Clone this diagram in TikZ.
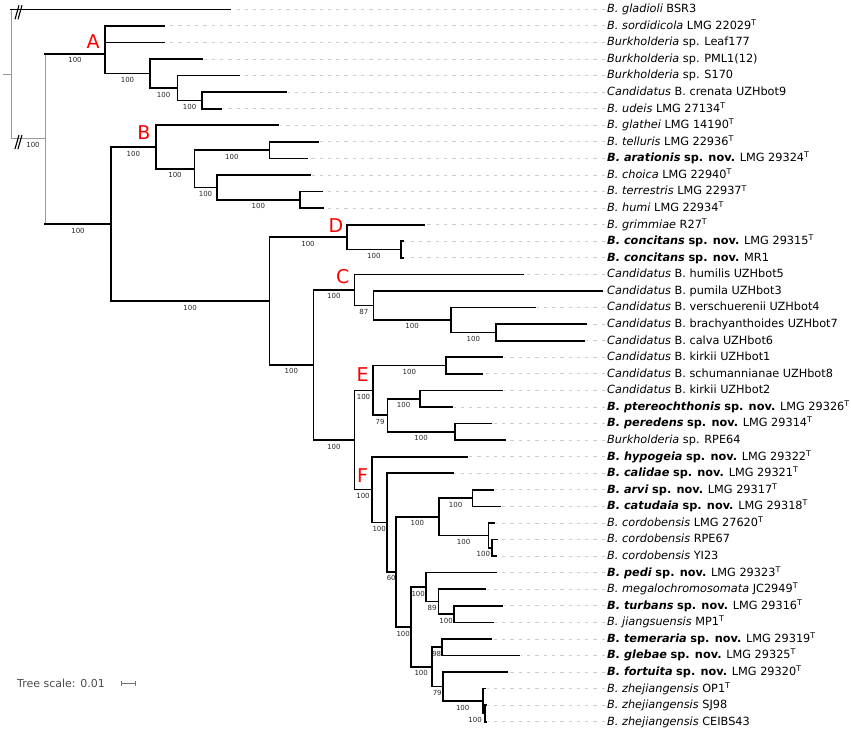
\documentclass[tikz,border=0pt]{standalone}
\usepackage{fontspec}
\setmainfont{DejaVu Sans}
\usepackage{tikz}
\usetikzlibrary{arrows.meta}

\newcommand{\nov}[1]{\textbf{\textit{B. #1}} \textbf{sp. nov.}}
\newcommand{\tstr}{\textsuperscript{T}}

\begin{document}
\begin{tikzpicture}[x=1pt, y=-1pt,
  branch/.style={line width=1.6pt, line cap=rect, line join=miter},
  rootline/.style={line width=1pt, draw=black!40},
  guide/.style={draw=black!20, line width=0.9pt, dash pattern=on 3.3pt off 5pt,
    shorten <=2pt, shorten >=2pt},
  boot/.style={font=\fontsize{7}{7}\selectfont, text=black!85, inner sep=0pt, below=3pt},
  clade/.style={font=\fontsize{19}{19}\selectfont, text=red, inner sep=0pt},
  leaf/.style={font=\fontsize{11.3}{13}\selectfont, anchor=base west, inner sep=0pt},
  breakmark/.style={line width=1.1pt},
  scalebar/.style={draw=black!55, line width=0.9pt, {Bar[width=5pt]}-{Bar[width=5pt]}}]

  \useasboundingbox (0,0) rectangle (851,729);

  % Листья: номер / конец ветви / подпись
  \foreach \i/\tx/\lab in {
    1/230/{\textit{B. gladioli} BSR3},
    2/164/{\textit{B. sordidicola} LMG 22029\tstr},
    3/164/{\textit{Burkholderia} sp. Leaf177},
    4/201.7/{\textit{Burkholderia} sp. PML1(12)},
    5/239.3/{\textit{Burkholderia} sp. S170},
    6/285.7/{\textit{Candidatus} B. crenata UZHbot9},
    7/220.7/{\textit{B. udeis} LMG 27134\tstr},
    8/278.3/{\textit{B. glathei} LMG 14190\tstr},
    9/317.7/{\textit{B. telluris} LMG 22936\tstr},
    10/306.7/{\nov{arationis} LMG 29324\tstr},
    11/310/{\textit{B. choica} LMG 22940\tstr},
    12/322.3/{\textit{B. terrestris} LMG 22937\tstr},
    13/323.3/{\textit{B. humi} LMG 22934\tstr},
    14/424.3/{\textit{B. grimmiae} R27\tstr},
    15/402.7/{\nov{concitans} LMG 29315\tstr},
    16/402.7/{\nov{concitans} MR1},
    17/522.7/{\textit{Candidatus} B. humilis UZHbot5},
    18/602/{\textit{Candidatus} B. pumila UZHbot3},
    19/535/{\textit{Candidatus} B. verschuerenii UZHbot4},
    20/585.7/{\textit{Candidatus} B. brachyanthoides UZHbot7},
    21/584.3/{\textit{Candidatus} B. calva UZHbot6},
    22/502.3/{\textit{Candidatus} B. kirkii UZHbot1},
    23/482.3/{\textit{Candidatus} B. schumannianae UZHbot8},
    24/501.7/{\textit{Candidatus} B. kirkii UZHbot2},
    25/451.7/{\nov{ptereochthonis} LMG 29326\tstr},
    26/490.7/{\nov{peredens} LMG 29314\tstr},
    27/505/{\textit{Burkholderia} sp. RPE64},
    28/466.7/{\nov{hypogeia} LMG 29322\tstr},
    29/453.3/{\nov{calidae} LMG 29321\tstr},
    30/492.7/{\nov{arvi} LMG 29317\tstr},
    31/500/{\nov{catudaia} LMG 29318\tstr},
    32/494/{\textit{B. cordobensis} LMG 27620\tstr},
    33/496.7/{\textit{B. cordobensis} RPE67},
    34/496/{\textit{B. cordobensis} YI23},
    35/495.7/{\nov{pedi} LMG 29323\tstr},
    36/485/{\textit{B. megalochromosomata} JC2949\tstr},
    37/501.7/{\nov{turbans} LMG 29316\tstr},
    38/493.3/{\textit{B. jiangsuensis} MP1\tstr},
    39/490.7/{\nov{temeraria} LMG 29319\tstr},
    40/519.3/{\nov{glebae} LMG 29325\tstr},
    41/507.3/{\nov{fortuita} LMG 29320\tstr},
    42/485/{\textit{B. zhejiangensis} OP1\tstr},
    43/486/{\textit{B. zhejiangensis} SJ98},
    44/486/{\textit{B. zhejiangensis} CEIBS43}} {
    \coordinate (t\i) at (\tx,{9.3+(\i-1)*16.57});
    \node[leaf] (l\i) at (607,{12.7+(\i-1)*16.57}) {\lab};
    \draw[guide] (t\i -| l\i.west) -- (t\i);
  }

  % Внутренние узлы: имя / x / номер строки
  \foreach \n/\x/\r in {r0/2.7/4.912, root/11/4.912, bk1/15/1, bk2/15/8.824,
    N1/45/8.824, A/105/3.6875, a0/105/2.5, a1/150/4.875, a2/177.3/5.75, a3/202/6.5,
    N2/111/13.96, B/155.7/9.3125, b1/194.3/10.625, b2/269.3/9.5, b3/216.7/11.75, b4/300/12.5,
    N3/269.3/18.608, D/346.7/14.75, d1/401/15.5,
    N4/313.3/22.466, C/354.3/17.9375, c1/373.3/18.875, c2/451/19.75, c3/495.7/20.5,
    N5/354.3/26.994, E/372.7/24, e1/446/22.5, e2/387.3/25.5, e3/420/24.5, e4/455/26.5,
    F/371.7/29.988, f1/386.7/31.977, f2/395.7/34.953, f3/439/31.625, f4/472.3/30.5,
    f5/488.3/32.75, f5b/491.7/33.5, f6/410.7/38.281, f7/425.7/35.875, f8/438.3/36.75,
    f9/454/37.5, f10/431.7/40.688, f11/441.7/39.5, f12/442.7/41.875, f13/482.7/42.75,
    f14/485/43.5}
    \coordinate (\n) at (\x,{9.3+(\r-1)*16.57});

  % Корень
  \draw[rootline] (r0) -- (root);
  \draw[rootline] (root |- t1) -- (root |- N1) -- (N1) node[boot, midway, xshift=5pt] {100};
  \draw[branch] (root |- t1) -- (t1);
  \draw[rootline] (N1 |- A) -- (N1 |- N2);
  \draw[branch] (N1 |- A) -- (A) node[boot, midway] {100};
  \draw[branch] (N1 |- N2) -- (N2) node[boot, midway] {100};
  \foreach \k in {bk1, bk2}
    \draw[breakmark] ([shift={(0,10)}]\k) -- ++(4,-14) ([shift={(3,10)}]\k) -- ++(4,-14);

  % Ветви с поддержкой
  \foreach \p/\c/\b in {A/a1/100, a1/a2/100, a2/a3/100, N2/B/100, B/b1/100, b1/b2/100,
    b1/b3/100, b3/b4/100, N2/N3/100, N3/D/100, D/d1/100, N3/N4/100, N4/C/100, C/c1/87,
    c1/c2/100, c2/c3/100, N4/N5/100, N5/E/100, E/e1/100, E/e2/79, e2/e3/100, e2/e4/100,
    N5/F/100, F/f1/100, f1/f2/60, f2/f3/100, f3/f4/100, f3/f5/100, f2/f6/100, f6/f7/100,
    f7/f8/89, f8/f9/100, f6/f10/100, f10/f11/98, f10/f12/79, f12/f13/100}
    \draw[branch] (\p) |- (\c) node[boot, pos=0.75] {\b};
  \draw[branch] (f5) |- (f5b) node[boot, pos=0.75, xshift=-6.7pt] {100};
  \draw[branch] (f13) |- (f14) node[boot, pos=0.75, xshift=-8.8pt] {100};

  % Ветви к листьям
  \foreach \p/\c in {A/a0, a0/t2, a0/t3, a1/t4, a2/t5, a3/t6, a3/t7, B/t8, b2/t9, b2/t10,
    b3/t11, b4/t12, b4/t13, D/t14, d1/t15, d1/t16, C/t17, c1/t18, c2/t19, c3/t20, c3/t21,
    e1/t22, e1/t23, e3/t24, e3/t25, e4/t26, e4/t27, F/t28, f1/t29, f4/t30, f4/t31, f5/t32,
    f5b/t33, f5b/t34, f7/t35, f8/t36, f9/t37, f9/t38, f11/t39, f11/t40, f12/t41, f13/t42,
    f14/t43, f14/t44}
    \draw[branch] (\p) |- (\c);

  % Клады
  \foreach \c/\dx/\dy in {A/-12/-12, B/-11.7/-14, C/-11.6/-13.3, D/-10.7/-12, E/-10/-15.4, F/-9/-14.5}
    \node[clade] (lab\c) at ([shift={(\dx,\dy)}]\c) {\c};

  % Масштаб
  \node[font=\fontsize{11}{13}\selectfont, text=black!70, anchor=west, inner sep=0pt] (scale) at (17,683.5) {Tree scale: 0.01};
  \coordinate (sb1) at (120.7,683.7);
  \coordinate (sb2) at (136,683.7);
  \draw[scalebar] (sb1) -- (sb2);

\end{tikzpicture}
\end{document}
